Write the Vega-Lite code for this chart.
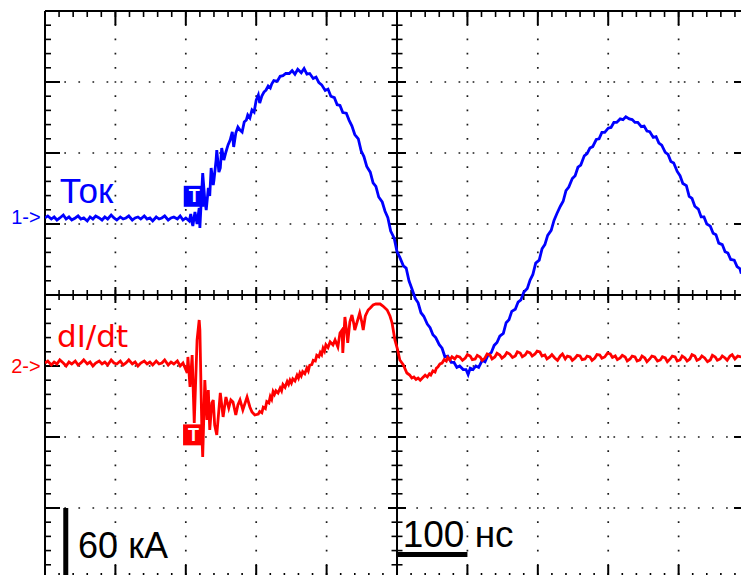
{
  "$schema": "https://vega.github.io/schema/vega-lite/v6.json",
  "width": 696,
  "height": 564,
  "autosize": {"type": "none"},
  "padding": {"left": 45, "top": 11, "right": 0, "bottom": 0},
  "background": "#ffffff",
  "config": {"view": {"stroke": null}},
  "datasets": {
    "tok": [
      {"t":0,"v":1.085},{"t":4,"v":1.113},{"t":9,"v":1.070},{"t":13,"v":1.099},{"t":17,"v":1.056},{"t":21,"v":1.085},{"t":26,"v":1.127},{"t":30,"v":1.070},{"t":34,"v":1.099},{"t":38,"v":1.056},
      {"t":43,"v":1.085},{"t":47,"v":1.113},{"t":51,"v":1.070},{"t":55,"v":1.085},{"t":60,"v":1.042},{"t":64,"v":1.099},{"t":68,"v":1.070},{"t":72,"v":1.113},{"t":77,"v":1.085},{"t":81,"v":1.056},
      {"t":85,"v":1.099},{"t":89,"v":1.070},{"t":94,"v":1.127},{"t":98,"v":1.085},{"t":102,"v":1.056},{"t":107,"v":1.099},{"t":111,"v":1.070},{"t":115,"v":1.085},{"t":119,"v":1.113},{"t":124,"v":1.056},
      {"t":128,"v":1.085},{"t":132,"v":1.099},{"t":136,"v":1.070},{"t":141,"v":1.113},{"t":145,"v":1.070},{"t":149,"v":1.085},{"t":153,"v":1.042},{"t":158,"v":1.099},{"t":162,"v":1.070},{"t":166,"v":1.085},
      {"t":170,"v":1.113},{"t":175,"v":1.056},{"t":179,"v":1.085},{"t":183,"v":1.099},{"t":188,"v":1.070},{"t":192,"v":1.113},{"t":196,"v":1.056},{"t":200,"v":1.085},{"t":205,"v":1.042},{"t":207,"v":1.141},
      {"t":210,"v":0.972},{"t":213,"v":1.169},{"t":216,"v":1.000},{"t":219,"v":1.225},{"t":220,"v":0.944},{"t":222,"v":1.338},{"t":224,"v":1.718},{"t":227,"v":1.338},{"t":229,"v":1.197},{"t":232,"v":1.507},
      {"t":234,"v":1.394},{"t":236,"v":1.789},{"t":239,"v":1.549},{"t":240,"v":1.620},{"t":243,"v":1.901},{"t":244,"v":2.042},{"t":247,"v":1.732},{"t":249,"v":1.789},{"t":251,"v":2.070},{"t":254,"v":1.901},
      {"t":257,"v":2.014},{"t":260,"v":2.113},{"t":263,"v":2.183},{"t":266,"v":2.296},{"t":268,"v":2.085},{"t":271,"v":2.282},{"t":274,"v":2.366},{"t":277,"v":2.324},{"t":280,"v":2.296},{"t":283,"v":2.437},
      {"t":286,"v":2.465},{"t":288,"v":2.535},{"t":291,"v":2.493},{"t":294,"v":2.606},{"t":297,"v":2.577},{"t":300,"v":2.746},{"t":303,"v":2.817},{"t":305,"v":2.704},{"t":308,"v":2.803},{"t":311,"v":2.859},
      {"t":314,"v":2.887},{"t":317,"v":2.944},{"t":320,"v":2.915},{"t":322,"v":2.972},{"t":325,"v":3.02},{"t":330,"v":3.01},{"t":334,"v":3.08},{"t":338,"v":3.09},{"t":342,"v":3.12},{"t":347,"v":3.12},
      {"t":351,"v":3.16},{"t":355,"v":3.11},{"t":359,"v":3.18},{"t":364,"v":3.13},{"t":368,"v":3.19},{"t":372,"v":3.11},{"t":376,"v":3.12},{"t":381,"v":3.05},{"t":385,"v":3.07},{"t":389,"v":2.99},
      {"t":393,"v":2.96},{"t":398,"v":2.88},{"t":402,"v":2.90},{"t":406,"v":2.80},{"t":411,"v":2.78},{"t":415,"v":2.68},{"t":419,"v":2.67},{"t":423,"v":2.57},{"t":428,"v":2.56},{"t":432,"v":2.46},
      {"t":436,"v":2.38},{"t":440,"v":2.26},{"t":445,"v":2.20},{"t":449,"v":2.03},{"t":453,"v":1.95},{"t":457,"v":1.81},{"t":462,"v":1.73},{"t":466,"v":1.58},{"t":470,"v":1.53},{"t":474,"v":1.38},
      {"t":479,"v":1.31},{"t":483,"v":1.18},{"t":487,"v":1.09},{"t":491,"v":0.90},{"t":496,"v":0.80},{"t":500,"v":0.61},{"t":504,"v":0.53},{"t":509,"v":0.41},{"t":513,"v":0.38},{"t":517,"v":0.20},
      {"t":521,"v":0.09},{"t":526,"v":-0.05},{"t":530,"v":-0.11},{"t":534,"v":-0.25},{"t":538,"v":-0.30},{"t":543,"v":-0.41},{"t":547,"v":-0.46},{"t":551,"v":-0.56},{"t":555,"v":-0.60},{"t":560,"v":-0.70},
      {"t":564,"v":-0.75},{"t":568,"v":-0.87},{"t":572,"v":-0.86},{"t":577,"v":-0.95},{"t":581,"v":-0.95},{"t":585,"v":-1.02},{"t":589,"v":-1.00},{"t":594,"v":-1.05},{"t":598,"v":-1.05},{"t":601,"v":-1.12},
      {"t":604,"v":-1.03},{"t":608,"v":-1.05},{"t":612,"v":-1.00},{"t":616,"v":-1.02},{"t":621,"v":-0.92},{"t":625,"v":-0.94},{"t":629,"v":-0.85},{"t":634,"v":-0.81},{"t":638,"v":-0.71},{"t":642,"v":-0.67},
      {"t":646,"v":-0.58},{"t":651,"v":-0.54},{"t":655,"v":-0.39},{"t":659,"v":-0.35},{"t":663,"v":-0.23},{"t":668,"v":-0.20},{"t":672,"v":-0.10},{"t":676,"v":-0.07},{"t":680,"v":0.04},{"t":685,"v":0.09},
      {"t":689,"v":0.21},{"t":693,"v":0.29},{"t":697,"v":0.45},{"t":702,"v":0.49},{"t":706,"v":0.65},{"t":710,"v":0.71},{"t":714,"v":0.84},{"t":719,"v":0.91},{"t":723,"v":1.05},{"t":727,"v":1.145},
      {"t":732,"v":1.25},{"t":736,"v":1.32},{"t":740,"v":1.47},{"t":744,"v":1.52},{"t":749,"v":1.64},{"t":753,"v":1.68},{"t":757,"v":1.80},{"t":761,"v":1.83},{"t":766,"v":1.96},{"t":770,"v":1.99},
      {"t":774,"v":2.07},{"t":778,"v":2.09},{"t":783,"v":2.19},{"t":787,"v":2.20},{"t":791,"v":2.29},{"t":795,"v":2.29},{"t":800,"v":2.35},{"t":804,"v":2.36},{"t":808,"v":2.43},{"t":812,"v":2.43},
      {"t":817,"v":2.48},{"t":821,"v":2.47},{"t":825,"v":2.51},{"t":830,"v":2.48},{"t":834,"v":2.47},{"t":838,"v":2.43},{"t":842,"v":2.43},{"t":847,"v":2.37},{"t":851,"v":2.38},{"t":855,"v":2.31},
      {"t":859,"v":2.30},{"t":864,"v":2.22},{"t":868,"v":2.23},{"t":872,"v":2.14},{"t":876,"v":2.11},{"t":881,"v":2.01},{"t":885,"v":1.98},{"t":889,"v":1.88},{"t":893,"v":1.86},{"t":898,"v":1.74},
      {"t":902,"v":1.68},{"t":906,"v":1.57},{"t":911,"v":1.54},{"t":915,"v":1.39},{"t":919,"v":1.36},{"t":923,"v":1.25},{"t":928,"v":1.21},{"t":932,"v":1.10},{"t":936,"v":1.10},{"t":940,"v":1.00},
      {"t":945,"v":0.97},{"t":949,"v":0.87},{"t":953,"v":0.85},{"t":957,"v":0.73},{"t":962,"v":0.71},{"t":966,"v":0.61},{"t":970,"v":0.59},{"t":974,"v":0.50},{"t":979,"v":0.49},{"t":983,"v":0.40},
      {"t":987,"v":0.37},{"t":989,"v":0.30}
    ],
    "didt": [
      {"t":0,"v":-0.958},{"t":4,"v":-0.930},{"t":9,"v":-0.986},{"t":13,"v":-0.944},{"t":17,"v":-0.972},{"t":21,"v":-0.915},{"t":26,"v":-0.958},{"t":30,"v":-1.000},{"t":34,"v":-0.944},{"t":38,"v":-0.972},
      {"t":43,"v":-0.930},{"t":47,"v":-0.986},{"t":51,"v":-0.958},{"t":55,"v":-0.915},{"t":60,"v":-0.972},{"t":64,"v":-0.944},{"t":68,"v":-1.000},{"t":72,"v":-0.958},{"t":77,"v":-0.930},{"t":81,"v":-0.972},
      {"t":85,"v":-0.944},{"t":89,"v":-0.986},{"t":94,"v":-0.915},{"t":98,"v":-0.958},{"t":102,"v":-0.972},{"t":107,"v":-0.930},{"t":111,"v":-0.986},{"t":115,"v":-0.958},{"t":119,"v":-0.915},{"t":124,"v":-0.972},
      {"t":128,"v":-0.944},{"t":132,"v":-1.000},{"t":136,"v":-0.958},{"t":141,"v":-0.930},{"t":145,"v":-0.972},{"t":149,"v":-0.944},{"t":153,"v":-0.986},{"t":158,"v":-0.930},{"t":162,"v":-0.972},{"t":166,"v":-0.958},
      {"t":170,"v":-0.915},{"t":175,"v":-0.986},{"t":179,"v":-0.944},{"t":183,"v":-0.972},{"t":188,"v":-0.930},{"t":192,"v":-1.000},{"t":196,"v":-0.958},{"t":199,"v":-1.028},{"t":202,"v":-1.099},{"t":203,"v":-0.873},
      {"t":206,"v":-1.296},{"t":209,"v":-0.845},{"t":212,"v":-1.803},{"t":216,"v":-0.634},{"t":219,"v":-0.352},{"t":220,"v":-0.493},{"t":223,"v":-2.000},{"t":224,"v":-2.282},{"t":227,"v":-1.197},{"t":230,"v":-1.761},
      {"t":232,"v":-1.338},{"t":234,"v":-1.901},{"t":237,"v":-1.521},{"t":239,"v":-1.479},{"t":241,"v":-1.831},{"t":244,"v":-1.972},{"t":249,"v":-1.380},{"t":253,"v":-1.718},{"t":257,"v":-1.437},{"t":261,"v":-1.592},
      {"t":264,"v":-1.479},{"t":267,"v":-1.507},{"t":271,"v":-1.690},{"t":274,"v":-1.549},{"t":277,"v":-1.479},{"t":281,"v":-1.620},{"t":287,"v":-1.437},{"t":291,"v":-1.577},{"t":294,"v":-1.648},{"t":298,"v":-1.690},
      {"t":303,"v":-1.676},{"t":305,"v":-1.64},{"t":308,"v":-1.66},{"t":310,"v":-1.58},{"t":313,"v":-1.60},{"t":315,"v":-1.50},{"t":318,"v":-1.52},{"t":320,"v":-1.43},{"t":322,"v":-1.47},{"t":324,"v":-1.36},
      {"t":326,"v":-1.40},{"t":328,"v":-1.35},{"t":331,"v":-1.38},{"t":334,"v":-1.31},{"t":336,"v":-1.35},{"t":338,"v":-1.26},{"t":341,"v":-1.30},{"t":344,"v":-1.22},{"t":346,"v":-1.26},{"t":348,"v":-1.20},
      {"t":350,"v":-1.24},{"t":352,"v":-1.18},{"t":355,"v":-1.21},{"t":358,"v":-1.13},{"t":360,"v":-1.17},{"t":362,"v":-1.10},{"t":364,"v":-1.14},{"t":366,"v":-1.08},{"t":369,"v":-1.11},{"t":372,"v":-1.03},
      {"t":374,"v":-1.07},{"t":376,"v":-0.99},{"t":379,"v":-0.98},{"t":381,"v":-0.92},{"t":384,"v":-0.93},{"t":386,"v":-0.85},{"t":389,"v":-0.87},{"t":391,"v":-0.81},{"t":393,"v":-0.84},{"t":395,"v":-0.75},
      {"t":397,"v":-0.79},{"t":399,"v":-0.70},{"t":402,"v":-0.74},{"t":405,"v":-0.66},{"t":409,"v":-0.704},{"t":412,"v":-0.634},{"t":416,"v":-0.732},{"t":419,"v":-0.535},{"t":422,"v":-0.493},{"t":423,"v":-0.817},
      {"t":426,"v":-0.310},{"t":429,"v":-0.563},{"t":430,"v":-0.676},{"t":433,"v":-0.380},{"t":436,"v":-0.282},{"t":439,"v":-0.423},{"t":440,"v":-0.493},{"t":445,"v":-0.324},{"t":447,"v":-0.254},{"t":450,"v":-0.380},
      {"t":452,"v":-0.493},{"t":455,"v":-0.296},{"t":459,"v":-0.211},{"t":462,"v":-0.183},{"t":466,"v":-0.141},{"t":470,"v":-0.127},{"t":476,"v":-0.127},{"t":480,"v":-0.155},{"t":486,"v":-0.211},{"t":490,"v":-0.296},
      {"t":493,"v":-0.394},{"t":497,"v":-0.634},{"t":501,"v":-0.775},{"t":504,"v":-0.915},{"t":509,"v":-0.986},{"t":514,"v":-1.099},{"t":518,"v":-1.127},{"t":521,"v":-1.17},{"t":524,"v":-1.155},{"t":527,"v":-1.19},
      {"t":530,"v":-1.169},{"t":533,"v":-1.20},{"t":536,"v":-1.169},{"t":540,"v":-1.13},{"t":543,"v":-1.155},{"t":546,"v":-1.11},{"t":548,"v":-1.127},{"t":551,"v":-1.07},{"t":554,"v":-1.085},{"t":556,"v":-1.03},
      {"t":558,"v":-1.014},{"t":561,"v":-0.97},{"t":564,"v":-0.958},{"t":567,"v":-0.91},{"t":570,"v":-0.930},{"t":572,"v":-0.88},
      {"t":575,"v":-0.915},{"t":578,"v":-0.87},{"t":582,"v":-0.901},{"t":585,"v":-0.86},{"t":589,"v":-0.873},{"t":593,"v":-0.92},{"t":597,"v":-0.887},{"t":600,"v":-0.84},{"t":604,"v":-0.859},{"t":607,"v":-0.91},
      {"t":611,"v":-0.901},{"t":614,"v":-0.85},{"t":618,"v":-0.873},{"t":621,"v":-0.92},{"t":625,"v":-0.887},{"t":628,"v":-0.83},{"t":632,"v":-0.845},{"t":635,"v":-0.90},{"t":639,"v":-0.873},{"t":642,"v":-0.82},
      {"t":646,"v":-0.845},{"t":649,"v":-0.89},{"t":653,"v":-0.859},{"t":656,"v":-0.81},{"t":660,"v":-0.831},{"t":664,"v":-0.88},{"t":668,"v":-0.859},{"t":671,"v":-0.80},{"t":675,"v":-0.817},{"t":678,"v":-0.87},
      {"t":682,"v":-0.845},{"t":685,"v":-0.80},{"t":689,"v":-0.817},{"t":692,"v":-0.86},{"t":696,"v":-0.831},{"t":699,"v":-0.79},{"t":703,"v":-0.803},{"t":706,"v":-0.86},{"t":710,"v":-0.845},{"t":713,"v":-0.90},
      {"t":717,"v":-0.873},{"t":720,"v":-0.84},{"t":724,"v":-0.887},{"t":728,"v":-0.92},{"t":732,"v":-0.859},{"t":735,"v":-0.83},{"t":739,"v":-0.901},{"t":742,"v":-0.86},{"t":746,"v":-0.873},{"t":749,"v":-0.92},
      {"t":753,"v":-0.887},{"t":756,"v":-0.85},{"t":760,"v":-0.859},{"t":763,"v":-0.91},{"t":767,"v":-0.901},{"t":770,"v":-0.86},{"t":774,"v":-0.873},{"t":777,"v":-0.92},{"t":781,"v":-0.887},{"t":784,"v":-0.84},
      {"t":788,"v":-0.845},{"t":791,"v":-0.89},{"t":795,"v":-0.873},{"t":799,"v":-0.82},{"t":803,"v":-0.831},{"t":806,"v":-0.88},{"t":810,"v":-0.859},{"t":813,"v":-0.91},{"t":817,"v":-0.887},{"t":820,"v":-0.85},
      {"t":824,"v":-0.873},{"t":827,"v":-0.93},{"t":831,"v":-0.901},{"t":834,"v":-0.86},{"t":838,"v":-0.873},{"t":841,"v":-0.93},{"t":845,"v":-0.915},{"t":848,"v":-0.86},{"t":852,"v":-0.887},{"t":855,"v":-0.94},
      {"t":859,"v":-0.901},{"t":862,"v":-0.86},{"t":866,"v":-0.873},{"t":870,"v":-0.93},{"t":874,"v":-0.915},{"t":877,"v":-0.87},{"t":881,"v":-0.887},{"t":884,"v":-0.94},{"t":888,"v":-0.901},{"t":891,"v":-0.86},
      {"t":895,"v":-0.873},{"t":898,"v":-0.93},{"t":902,"v":-0.915},{"t":905,"v":-0.86},{"t":909,"v":-0.887},{"t":912,"v":-0.93},{"t":916,"v":-0.901},{"t":919,"v":-0.84},{"t":923,"v":-0.859},{"t":926,"v":-0.92},
      {"t":930,"v":-0.901},{"t":933,"v":-0.86},{"t":937,"v":-0.887},{"t":941,"v":-0.94},{"t":945,"v":-0.915},{"t":948,"v":-0.85},{"t":952,"v":-0.873},{"t":955,"v":-0.92},{"t":959,"v":-0.901},{"t":962,"v":-0.86},
      {"t":966,"v":-0.887},{"t":969,"v":-0.92},{"t":973,"v":-0.859},{"t":976,"v":-0.84},{"t":980,"v":-0.901},{"t":984,"v":-0.86},{"t":989,"v":-0.873}
    ],
    "gridT": [{"t":100},{"t":200},{"t":300},{"t":400},{"t":600},{"t":700},{"t":800},{"t":900}],
    "gridV": [{"v":-3},{"v":-2},{"v":-1},{"v":1},{"v":2},{"v":3}],
    "frameT": [{"t":0},{"t":500}],
    "frameV": [{"v":4},{"v":0}],
    "tickT": [
      {"t":20},{"t":40},{"t":60},{"t":80},{"t":100},{"t":120},{"t":140},{"t":160},{"t":180},{"t":200},
      {"t":220},{"t":240},{"t":260},{"t":280},{"t":300},{"t":320},{"t":340},{"t":360},{"t":380},{"t":400},
      {"t":420},{"t":440},{"t":460},{"t":480},{"t":500},{"t":520},{"t":540},{"t":560},{"t":580},{"t":600},
      {"t":620},{"t":640},{"t":660},{"t":680},{"t":700},{"t":720},{"t":740},{"t":760},{"t":780},{"t":800},
      {"t":820},{"t":840},{"t":860},{"t":880},{"t":900},{"t":920},{"t":940},{"t":960},{"t":980}
    ],
    "tickV": [
      {"v":-3.8},{"v":-3.6},{"v":-3.4},{"v":-3.2},{"v":-3},{"v":-2.8},{"v":-2.6},{"v":-2.4},{"v":-2.2},{"v":-2},
      {"v":-1.8},{"v":-1.6},{"v":-1.4},{"v":-1.2},{"v":-1},{"v":-0.8},{"v":-0.6},{"v":-0.4},{"v":-0.2},{"v":0},
      {"v":0.2},{"v":0.4},{"v":0.6},{"v":0.8},{"v":1},{"v":1.2},{"v":1.4},{"v":1.6},{"v":1.8},{"v":2},
      {"v":2.2},{"v":2.4},{"v":2.6},{"v":2.8},{"v":3},{"v":3.2},{"v":3.4},{"v":3.6},{"v":3.8}
    ],
    "majorT": [{"t":100},{"t":200},{"t":300},{"t":400},{"t":600},{"t":700},{"t":800},{"t":900}],
    "majorV": [{"v":-3},{"v":-2},{"v":-1},{"v":1},{"v":2},{"v":3}]
  },
  "layer": [
    {
      "data": {"name": "gridT"},
      "mark": {"type": "rule", "color": "#1a1a1a", "strokeWidth": 1.7, "strokeDash": [1.7, 12.5], "strokeDashOffset": 0.85},
      "encoding": {"x": {"field": "t", "type": "quantitative", "scale": {"domain": [0, 988.6], "nice": false, "zero": false}, "axis": null}}
    },
    {
      "data": {"name": "gridV"},
      "mark": {"type": "rule", "color": "#1a1a1a", "strokeWidth": 1.7, "strokeDash": [1.7, 12.38], "strokeDashOffset": 0.85},
      "encoding": {"y": {"field": "v", "type": "quantitative", "scale": {"domain": [-3.944, 4], "nice": false, "zero": false}, "axis": null}}
    },
    {
      "data": {"name": "frameT"},
      "mark": {"type": "rule", "color": "#000000", "strokeWidth": 2},
      "encoding": {"x": {"field": "t", "type": "quantitative", "scale": {"domain": [0, 988.6], "nice": false, "zero": false}, "axis": null}}
    },
    {
      "data": {"name": "frameV"},
      "mark": {"type": "rule", "color": "#000000", "strokeWidth": 2},
      "encoding": {"y": {"field": "v", "type": "quantitative", "scale": {"domain": [-3.944, 4], "nice": false, "zero": false}, "axis": null}}
    },
    {
      "data": {"name": "tickT"},
      "layer": [
        {"mark": {"type": "tick", "orient": "vertical", "size": 12, "thickness": 1.6, "color": "#000000", "opacity": 1, "clip": true},
         "encoding": {"x": {"field": "t", "type": "quantitative", "scale": {"domain": [0, 988.6], "nice": false, "zero": false}, "axis": null},
                      "y": {"datum": 4, "type": "quantitative", "scale": {"domain": [-3.944, 4], "nice": false, "zero": false}, "axis": null}}},
        {"mark": {"type": "tick", "orient": "vertical", "size": 12, "thickness": 1.6, "color": "#000000", "opacity": 1, "clip": true},
         "encoding": {"x": {"field": "t", "type": "quantitative", "scale": {"domain": [0, 988.6], "nice": false, "zero": false}, "axis": null},
                      "y": {"datum": -4, "type": "quantitative", "scale": {"domain": [-3.944, 4], "nice": false, "zero": false}, "axis": null}}},
        {"mark": {"type": "tick", "orient": "vertical", "size": 10, "thickness": 1.6, "color": "#000000", "opacity": 1, "clip": true},
         "encoding": {"x": {"field": "t", "type": "quantitative", "scale": {"domain": [0, 988.6], "nice": false, "zero": false}, "axis": null},
                      "y": {"datum": 0, "type": "quantitative", "scale": {"domain": [-3.944, 4], "nice": false, "zero": false}, "axis": null}}}
      ]
    },
    {
      "data": {"name": "majorT"},
      "layer": [
        {"mark": {"type": "tick", "orient": "vertical", "size": 28, "thickness": 2, "color": "#000000", "opacity": 1, "clip": true},
         "encoding": {"x": {"field": "t", "type": "quantitative", "scale": {"domain": [0, 988.6], "nice": false, "zero": false}, "axis": null},
                      "y": {"datum": 4, "type": "quantitative", "scale": {"domain": [-3.944, 4], "nice": false, "zero": false}, "axis": null}}},
        {"mark": {"type": "tick", "orient": "vertical", "size": 28, "thickness": 2, "color": "#000000", "opacity": 1, "clip": true},
         "encoding": {"x": {"field": "t", "type": "quantitative", "scale": {"domain": [0, 988.6], "nice": false, "zero": false}, "axis": null},
                      "y": {"datum": -4, "type": "quantitative", "scale": {"domain": [-3.944, 4], "nice": false, "zero": false}, "axis": null}}},
        {"mark": {"type": "tick", "orient": "vertical", "size": 16, "thickness": 2, "color": "#000000", "opacity": 1, "clip": true},
         "encoding": {"x": {"field": "t", "type": "quantitative", "scale": {"domain": [0, 988.6], "nice": false, "zero": false}, "axis": null},
                      "y": {"datum": 0, "type": "quantitative", "scale": {"domain": [-3.944, 4], "nice": false, "zero": false}, "axis": null}}}
      ]
    },
    {
      "data": {"name": "tickV"},
      "layer": [
        {"mark": {"type": "tick", "orient": "horizontal", "size": 12, "thickness": 1.6, "color": "#000000", "opacity": 1, "clip": true},
         "encoding": {"y": {"field": "v", "type": "quantitative", "scale": {"domain": [-3.944, 4], "nice": false, "zero": false}, "axis": null},
                      "x": {"datum": 0, "type": "quantitative", "scale": {"domain": [0, 988.6], "nice": false, "zero": false}, "axis": null}}},
        {"mark": {"type": "tick", "orient": "horizontal", "size": 11, "thickness": 1.6, "color": "#000000", "opacity": 1, "clip": true},
         "encoding": {"y": {"field": "v", "type": "quantitative", "scale": {"domain": [-3.944, 4], "nice": false, "zero": false}, "axis": null},
                      "x": {"datum": 500, "type": "quantitative", "scale": {"domain": [0, 988.6], "nice": false, "zero": false}, "axis": null}}}
      ]
    },
    {
      "data": {"name": "majorV"},
      "layer": [
        {"mark": {"type": "tick", "orient": "horizontal", "size": 30, "thickness": 2, "color": "#000000", "opacity": 1, "clip": true},
         "encoding": {"y": {"field": "v", "type": "quantitative", "scale": {"domain": [-3.944, 4], "nice": false, "zero": false}, "axis": null},
                      "x": {"datum": 0, "type": "quantitative", "scale": {"domain": [0, 988.6], "nice": false, "zero": false}, "axis": null}}},
        {"mark": {"type": "tick", "orient": "horizontal", "size": 18, "thickness": 2, "color": "#000000", "opacity": 1, "clip": true},
         "encoding": {"y": {"field": "v", "type": "quantitative", "scale": {"domain": [-3.944, 4], "nice": false, "zero": false}, "axis": null},
                      "x": {"datum": 500, "type": "quantitative", "scale": {"domain": [0, 988.6], "nice": false, "zero": false}, "axis": null}}},
        {"mark": {"type": "tick", "orient": "horizontal", "size": 30, "thickness": 2, "color": "#000000", "opacity": 1, "clip": true},
         "encoding": {"y": {"field": "v", "type": "quantitative", "scale": {"domain": [-3.944, 4], "nice": false, "zero": false}, "axis": null},
                      "x": {"datum": 1000, "type": "quantitative", "scale": {"domain": [0, 988.6], "nice": false, "zero": false}, "axis": null}}}
      ]
    },
    {
      "data": {"name": "tok"},
      "mark": {"type": "line", "color": "#0000ff", "strokeWidth": 2.8, "clip": true},
      "encoding": {
        "x": {"field": "t", "type": "quantitative", "scale": {"domain": [0, 988.6], "nice": false, "zero": false}, "axis": null},
        "y": {"field": "v", "type": "quantitative", "scale": {"domain": [-3.944, 4], "nice": false, "zero": false}, "axis": null}
      }
    },
    {
      "data": {"name": "didt"},
      "mark": {"type": "line", "color": "#ff0000", "strokeWidth": 2.8, "clip": true},
      "encoding": {
        "x": {"field": "t", "type": "quantitative", "scale": {"domain": [0, 988.6], "nice": false, "zero": false}, "axis": null},
        "y": {"field": "v", "type": "quantitative", "scale": {"domain": [-3.944, 4], "nice": false, "zero": false}, "axis": null}
      }
    },
    {
      "data": {"values": [{"ch": "Ток", "c": "#0000ff", "t": 212, "v": 1.39}, {"ch": "dI/dt", "c": "#ff0000", "t": 211, "v": -1.97}]},
      "layer": [
        {"mark": {"type": "square", "size": 440, "opacity": 1, "filled": true},
         "encoding": {"x": {"field": "t", "type": "quantitative", "scale": {"domain": [0, 988.6], "nice": false, "zero": false}, "axis": null},
                      "y": {"field": "v", "type": "quantitative", "scale": {"domain": [-3.944, 4], "nice": false, "zero": false}, "axis": null},
                      "color": {"field": "c", "type": "nominal", "scale": null, "legend": null}}},
        {"mark": {"type": "text", "text": "T", "font": "Liberation Sans", "fontSize": 18, "fontWeight": "bold", "color": "#ffffff", "align": "center", "baseline": "middle", "dy": 1},
         "encoding": {"x": {"field": "t", "type": "quantitative", "scale": {"domain": [0, 988.6], "nice": false, "zero": false}, "axis": null},
                      "y": {"field": "v", "type": "quantitative", "scale": {"domain": [-3.944, 4], "nice": false, "zero": false}, "axis": null}}}
      ]
    },
    {
      "data": {"values": [{"s": "Ток"}]},
      "mark": {"type": "text", "font": "Liberation Sans", "fontSize": 35, "color": "#0000ff", "align": "left", "baseline": "alphabetic"},
      "encoding": {"text": {"field": "s"},
        "x": {"datum": 21, "type": "quantitative", "scale": {"domain": [0, 988.6], "nice": false, "zero": false}, "axis": null},
        "y": {"datum": 1.296, "type": "quantitative", "scale": {"domain": [-3.944, 4], "nice": false, "zero": false}, "axis": null}}
    },
    {
      "data": {"values": [{"s": "dI/dt"}]},
      "mark": {"type": "text", "font": "DejaVu Sans", "fontSize": 31, "color": "#ff0000", "align": "left", "baseline": "alphabetic"},
      "encoding": {"text": {"field": "s"},
        "x": {"datum": 17, "type": "quantitative", "scale": {"domain": [0, 988.6], "nice": false, "zero": false}, "axis": null},
        "y": {"datum": -0.732, "type": "quantitative", "scale": {"domain": [-3.944, 4], "nice": false, "zero": false}, "axis": null}}
    },
    {
      "data": {"values": [{"s": "1->"}]},
      "mark": {"type": "text", "font": "Liberation Sans", "fontSize": 20, "color": "#0000ff", "align": "left", "baseline": "alphabetic"},
      "encoding": {"text": {"field": "s"},
        "x": {"datum": -48, "type": "quantitative", "scale": {"domain": [0, 988.6], "nice": false, "zero": false}, "axis": null},
        "y": {"datum": 0.995, "type": "quantitative", "scale": {"domain": [-3.944, 4], "nice": false, "zero": false}, "axis": null}}
    },
    {
      "data": {"values": [{"s": "2->"}]},
      "mark": {"type": "text", "font": "Liberation Sans", "fontSize": 20, "color": "#ff0000", "align": "left", "baseline": "alphabetic"},
      "encoding": {"text": {"field": "s"},
        "x": {"datum": -48, "type": "quantitative", "scale": {"domain": [0, 988.6], "nice": false, "zero": false}, "axis": null},
        "y": {"datum": -1.099, "type": "quantitative", "scale": {"domain": [-3.944, 4], "nice": false, "zero": false}, "axis": null}}
    },
    {
      "data": {"values": [{"s": "60 кА"}]},
      "mark": {"type": "text", "font": "Liberation Sans", "fontSize": 36, "color": "#000000", "align": "left", "baseline": "alphabetic"},
      "encoding": {"text": {"field": "s"},
        "x": {"datum": 47, "type": "quantitative", "scale": {"domain": [0, 988.6], "nice": false, "zero": false}, "axis": null},
        "y": {"datum": -3.704, "type": "quantitative", "scale": {"domain": [-3.944, 4], "nice": false, "zero": false}, "axis": null}}
    },
    {
      "data": {"values": [{"s": "100 нс"}]},
      "mark": {"type": "text", "font": "Liberation Sans", "fontSize": 37, "color": "#000000", "align": "left", "baseline": "alphabetic"},
      "encoding": {"text": {"field": "s"},
        "x": {"datum": 508, "type": "quantitative", "scale": {"domain": [0, 988.6], "nice": false, "zero": false}, "axis": null},
        "y": {"datum": -3.545, "type": "quantitative", "scale": {"domain": [-3.944, 4], "nice": false, "zero": false}, "axis": null}}
    },
    {
      "data": {"values": [{"kA": 60}]},
      "mark": {"type": "rule", "color": "#000000", "strokeWidth": 5},
      "encoding": {
        "x": {"datum": 29.5, "type": "quantitative", "scale": {"domain": [0, 988.6], "nice": false, "zero": false}, "axis": null},
        "y": {"datum": -3, "type": "quantitative", "scale": {"domain": [-3.944, 4], "nice": false, "zero": false}, "axis": null},
        "y2": {"datum": -4}
      }
    },
    {
      "data": {"values": [{"ns": 100}]},
      "mark": {"type": "rule", "color": "#000000", "strokeWidth": 5},
      "encoding": {
        "x": {"datum": 500, "type": "quantitative", "scale": {"domain": [0, 988.6], "nice": false, "zero": false}, "axis": null},
        "x2": {"datum": 600},
        "y": {"datum": -3.654, "type": "quantitative", "scale": {"domain": [-3.944, 4], "nice": false, "zero": false}, "axis": null}
      }
    }
  ]
}
